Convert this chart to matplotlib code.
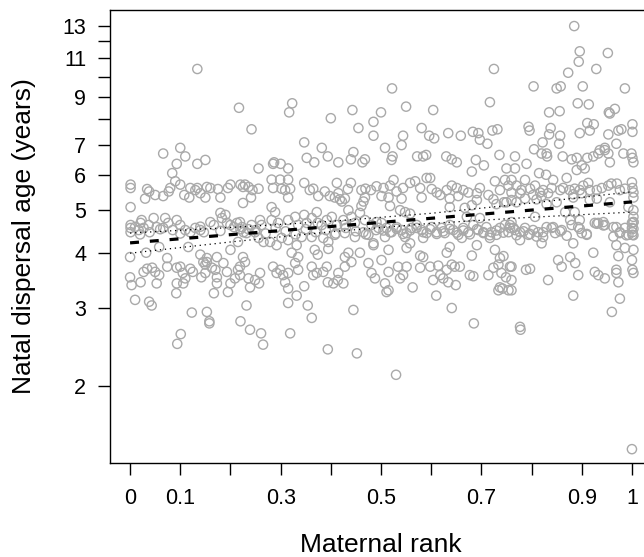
import matplotlib
matplotlib.use('Agg')
import matplotlib.pyplot as plt
from matplotlib.ticker import NullLocator, FixedLocator, FixedFormatter

plt.rcParams['font.family'] = ['Liberation Sans', 'DejaVu Sans']

# --- points, grouped by x range ---
# left strip (rank 0 - 0.23)
rank_a = [.066, .10, .11, .093, .134, .15, .084, .09,
          .001, .001, .034, .038, .03, .05, .066, .077, .08, .10,
          .12, .13, .134, .108, .118, .14, .15, .153, .16, .175, .18, .195, .20, .22, .225,
          .001,
          .001, .001, .001, .01, .017, .021, .023, .027, .037, .039, .047, .053, .066, .07, .076, .085,
          .093, .10, .11, .12, .13, .14, .147, .16, .167, .18, .183, .19, .193, .20, .207, .213, .219, .223, .226,
          0, .032, .058, .074, .116, .14, .153, .153, .173, .20, .215, .225,
          0, .003, .027, .034, .044, .05, .058, .021, .053, .074, .093, .10, .105, .11, .12, .125, .093, .106,
          .092, .142, .15, .146, .15, .163, .17, .173, .173, .167, .186, .193, .20, .209, .215, .219, .219, .195,
          .01, .038, .043, .123, .153, .158, .158, .22, .225]
age_a = [6.7, 6.9, 6.6, 6.35, 6.35, 6.48, 6.05, 5.8,
         5.7, 5.6, 5.57, 5.5, 5.3, 5.4, 5.37, 5.5, 5.6, 5.7,
         5.6, 5.54, 5.6, 5.4, 5.33, 5.45, 5.33, 5.63, 5.6, 5.57, 5.33, 5.6, 5.7, 5.7, 5.63,
         5.07,
         4.62, 4.55, 4.45, 4.57, 4.5, 4.67, 4.74, 4.55, 4.62, 4.45, 4.79, 4.57, 4.55, 4.79, 4.67, 4.5,
         4.74, 4.62, 4.5, 4.45, 4.55, 4.5, 4.45, 4.69, 4.62, 4.92, 4.79, 4.87, 4.67, 4.62, 4.57, 4.67, 4.69, 4.57, 4.45,
         3.91, 4.0, 4.12, 3.89, 4.12, 3.96, 3.81, 3.89, 3.91, 4.06, 4.23, 3.91,
         3.52, 3.38, 3.62, 3.68, 3.7, 3.62, 3.56, 3.43, 3.41, 3.72, 3.7, 3.72, 3.6, 3.5, 3.68, 3.62, 3.41, 3.41,
         3.24, 3.52, 3.6, 3.81, 3.76, 3.7, 3.66, 3.52, 3.41, 3.24, 3.79, 3.62, 3.41, 3.5, 3.66, 3.72, 3.56, 3.26,
         3.13, 3.1, 3.04, 2.93, 2.94, 2.8, 2.77, 2.8, 5.18]

# rank 0.23 - 0.50
rank_b = [.242, .485, .455, .485, .347, .382, .445, .352, .367, .394, .415, .44, .463, .468, .287, .285, .30, .315,
          .256, .282, .299, .315,
          .285, .302, .309, .319, .315, .229, .236, .244, .256, .241, .347, .358, .365, .375,
          .388, .398, .408, .418, .415, .412, .434, .422, .461, .469, .48, .465, .468, .461, .491, .44, .428,
          .282, .289, .282, .295, .259, .262, .242, .236, .249,
          .315, .329, .335, .347, .352, .362, .372, .374, .382, .392, .402, .412, .425, .428, .435, .441,
          .448, .458, .468, .481, .491, .495,
          .232, .256, .266, .279, .292, .302, .315, .332, .342, .362, .385, .395, .408, .428, .448, .465, .475, .485,
          .322, .335, .368, .374, .395, .428, .435, .458, .485,
          .229, .236, .249, .259, .285, .292, .299, .305, .315, .329, .335, .362, .365, .372, .385, .392, .394,
          .405, .415, .425, .428, .441, .475, .481, .488, .239, .257, .309, .414,
          .315, .347, .315, .332, .354, .362, .445, .232]
age_b = [7.6, 7.9, 7.65, 7.35, 7.1, 6.9, 6.75, 6.55, 6.4, 6.6, 6.4, 6.5, 6.4, 6.5, 6.4, 6.35, 6.35, 6.2,
         6.2, 5.85, 5.85, 5.85,
         5.6, 5.58, 5.54, 5.58, 5.33, 5.7, 5.63, 5.54, 5.58, 5.33, 5.75, 5.54, 5.58, 5.37,
         5.5, 5.37, 5.33, 5.28, 5.45, 5.75, 5.57, 5.22, 5.54, 5.58, 5.54, 5.22, 5.33, 5.1, 5.65, 5.75, 5.3,
         5.07, 4.94, 4.74, 4.67, 4.74, 4.62, 4.62, 4.52, 4.45,
         4.74, 4.82, 4.62, 4.87, 4.67, 4.79, 4.94, 4.67, 4.62, 4.74, 4.82, 4.62, 4.74, 4.62, 4.99, 4.82,
         4.67, 4.92, 4.74, 4.62, 4.69, 4.55,
         4.43, 4.32, 4.23, 4.23, 4.16, 4.32, 4.27, 4.16, 4.34, 4.34, 4.32, 4.23, 4.39, 4.43, 4.34, 4.45, 4.39, 4.2,
         4.0, 3.91, 4.06, 3.96, 4.08, 3.91, 4.0, 4.0, 4.16,
         3.81, 3.5, 3.47, 3.6, 3.72, 3.6, 3.66, 3.56, 3.6, 3.79, 3.66, 3.72, 3.56, 3.6, 3.62, 3.72, 3.43,
         3.41, 3.6, 3.41, 3.72, 3.81, 3.79, 3.6, 3.5, 3.34, 3.41, 3.43, 3.47,
         3.32, 3.36, 3.08, 3.2, 3.04, 2.85, 2.97, 3.04]

# rank 0.50 - 0.76
rank_c = [.581, .544, .541, .596, .606, .634, .659, .683, .694, .697, .712, .722, .732, .508,
          .523, .521, .572, .584, .59, .63, .641, .651, .689, .705, .736, .681, .75,
          .525, .518, .505, .501, .531, .544, .558, .568, .578, .591, .598, .601, .611, .618, .631, .641, .651,
          .664, .674, .691, .697, .714, .727, .737, .747, .754, .76, .515, .541, .581, .637, .654, .691, .724, .745,
          .518, .538, .548, .558, .637, .667, .681, .73, .75, .671, .697,
          .501, .511, .521, .531, .541, .551, .561, .571, .581, .591, .601, .611, .621, .627, .637, .644, .654,
          .664, .674, .684, .694, .704, .71, .72, .73, .737, .747, .754, .76, .764, .508, .548, .584, .661, .717,
          .515, .551, .558, .578, .584, .631, .637, .681, .691, .727, .737, .744, .501,
          .515, .534, .544, .538, .551, .578, .598, .604, .614, .618, .624, .631, .634, .641, .647, .657, .649,
          .677, .684, .714, .724, .734, .74, .749, .757, .508, .515, .511, .563, .61, .737, .754, .734, .742,
          .641, .685]
age_c = [7.65, 7.35, 7.0, 7.35, 7.25, 7.45, 7.35, 7.5, 7.45, 7.2, 7.05, 7.55, 7.6, 6.9,
         6.6, 6.48, 6.6, 6.6, 6.65, 6.6, 6.5, 6.4, 6.48, 6.3, 6.65, 6.1, 6.2,
         5.84, 5.67, 5.6, 5.37, 5.5, 5.6, 5.75, 5.8, 5.6, 5.9, 5.9, 5.57, 5.47, 5.4, 5.54, 5.67, 5.6,
         5.54, 5.47, 5.45, 5.6, 5.4, 5.8, 5.54, 5.84, 5.67, 5.47, 5.33, 5.3, 5.33, 5.3, 5.37, 5.26, 5.28, 5.2,
         5.1, 4.99, 4.94, 4.9, 5.07, 5.05, 5.12, 5.15, 5.2, 4.82, 4.79,
         4.67, 4.55, 4.45, 4.57, 4.5, 4.43, 4.55, 4.62, 4.5, 4.43, 4.57, 4.45, 4.55, 4.43, 4.62, 4.5, 4.39,
         4.55, 4.45, 4.62, 4.5, 4.43, 4.57, 4.45, 4.39, 4.55, 4.62, 4.45, 4.69, 4.55, 4.34, 4.34, 4.32, 4.32, 4.32,
         4.06, 4.1, 4.2, 3.94, 3.91, 4.0, 4.12, 3.94, 4.16, 4.06, 3.89, 3.93, 3.85,
         3.62, 3.72, 3.56, 3.5, 3.72, 3.7, 3.72, 3.47, 3.74, 3.56, 3.5, 3.66, 3.43, 3.76, 3.72, 3.72, 3.38,
         3.56, 3.54, 3.56, 3.7, 3.76, 3.6, 3.52, 3.72, 3.41, 3.29, 3.26, 3.34, 3.2, 3.34, 3.29, 3.29, 3.32,
         3.0, 2.77]

# rank 0.76 - 1
rank_d = [.794, .796, .838, .835, .857, .822, .855, .805, .896, .911, .916, .924, .953, .973, .979, 1.001, 1.001,
          .969, .946, .936,
          .767, .79, .82, .83, .831, .862, .88, .89, .90, .911, .923, .933, .946, .953, .956, .983, .999, 1.001,
          1.003, .906, .89, .815, .829, .843, .767,
          .76, .77, .78, .787, .797, .807, .817, .823, .833, .84, .857, .863, .87, .876, .886, .896, .903, .913,
          .916, .94, .953, .959, .97, .976, .986, 1.0, 1.001, 1.003, 1.003, .777, .803, .82, .883, .90, .93,
          .76, .77, .787, .81, .83, .85, .883, .916, .93, .956, .993, 1.003, 1.003, 1.003, .807, .867, .886, .896,
          .926, .943,
          .757, .767, .777, .787, .794, .803, .813, .823, .83, .84, .847, .86, .877, .88, .893, .90, .91, .933,
          .946, .969, .976, .986, .993, 1.0, 1.0, 1.001, 1.001, .777, .82, .883,
          .923, .969, .986, 1.003, .973, .877, .853, .86, .887, 1.0, 1.001, 1.003, .969, .969, .973, .926, .933,
          .946, .789, .797, .76, .76, .76, .833, .893, .883, .976, .96, .777]
age_d = [7.7, 7.55, 7.65, 7.4, 7.35, 7.1, 7.05, 6.85, 7.45, 7.85, 7.55, 7.8, 7.4, 7.55, 7.6, 7.8, 7.5,
         7.05, 6.9, 6.82,
         6.6, 6.35, 6.7, 6.7, 6.6, 6.6, 6.5, 6.55, 6.3, 6.55, 6.6, 6.7, 6.82, 6.7, 6.4, 6.7, 6.7, 6.55,
         6.4, 6.2, 6.15, 6.05, 6.0, 5.84, 6.2,
         5.84, 5.67, 5.54, 5.84, 5.58, 5.67, 5.47, 5.54, 5.45, 5.6, 5.54, 5.6, 5.9, 5.54, 5.58, 5.54, 5.67, 5.75,
         5.54, 5.6, 5.67, 5.73, 5.73, 5.54, 5.58, 5.77, 5.6, 5.47, 5.33, 5.45, 5.4, 5.37, 5.42, 5.45, 5.54,
         5.26, 5.2, 5.3, 5.28, 5.15, 5.2, 5.33, 5.26, 5.3, 5.2, 5.07, 4.99, 4.82, 4.69, 4.82, 4.94, 4.94, 4.74,
         4.67, 4.69,
         4.62, 4.5, 4.45, 4.55, 4.39, 4.5, 4.45, 4.34, 4.57, 4.55, 4.43, 4.5, 4.74, 4.62, 4.57, 4.43, 4.39, 4.67,
         4.62, 4.57, 4.43, 4.55, 4.39, 4.67, 4.55, 4.45, 4.39, 4.27, 4.2, 4.2,
         4.0, 4.16, 4.1, 4.06, 3.93, 3.91, 3.85, 3.72, 3.79, 3.85, 3.66, 3.6, 3.66, 3.6, 3.43, 3.62, 3.56,
         3.5, 3.66, 3.68, 3.72, 3.47, 3.29, 3.47, 3.56, 3.2, 3.15, 2.94, 2.72]

# extra points in the crowded band around 4.5 years
rank_band = [.505, .518, .531, .544, .558, .571, .584, .598, .611, .624, .637, .651, .664, .677, .691,
             .704, .717, .73, .744, .757, .77, .784, .797, .81, .823, .843, .857, .87, .896, .91,
             .93, .943, .963, .976, .989, 1.003, 1.003, 1.003, .963,
             .25, .27, .29, .31, .33, .35, .37, .39, .41, .43, .45, .47, .49, .02, .06, .10, .14, .18, .22]
age_band = [4.49, 4.45, 4.53, 4.41, 4.49, 4.55, 4.45, 4.52, 4.41, 4.47, 4.53, 4.44, 4.49, 4.40, 4.52,
            4.45, 4.38, 4.49, 4.44, 4.55, 4.38, 4.47, 4.41, 4.35, 4.45, 4.57, 4.47, 4.37, 4.53, 4.41,
            4.65, 4.61, 4.57, 4.45, 4.38, 4.69, 4.53, 4.38, 4.35,
            4.5, 4.42, 4.55, 4.47, 4.4, 4.52, 4.45, 4.5, 4.42, 4.55, 4.47, 4.4, 4.5, 4.4, 4.52, 4.42, 4.58, 4.48, 4.52]

# sparse high and low points
rank_out = [.134, .217, .323, .317, .40, .443, .50, .522, .55, .604, .717, .725, .804, .835, .856, .85, .858,
            .873, .894, .896, .885, .902, .929, .952, .892, .914, .954, .956, .966, .986,
            .101, .094, .239, .261, .265, .319, .394, .452, .53, .778, 1.0]
age_out = [10.4, 8.5, 8.7, 8.3, 8.05, 8.4, 8.3, 9.4, 8.55, 8.4, 8.75, 10.4, 9.5, 8.3, 8.35, 9.4, 9.5,
           10.2, 10.8, 11.4, 13.0, 9.5, 10.4, 11.3, 8.7, 8.65, 8.3, 8.25, 8.45, 9.4,
           2.62, 2.49, 2.68, 2.63, 2.48, 2.63, 2.42, 2.37, 2.12, 2.68, 1.44]

# fitted line and interval, read at a few ranks
fit_rank = [0, 1]
fit_age = [4.21, 5.21]
ci_rank = [0, 0.2, 0.4, 0.6, 0.8, 1.0]
ci_upper = [4.43, 4.56, 4.71, 4.91, 5.18, 5.49]
ci_lower = [3.99, 4.23, 4.46, 4.66, 4.81, 4.94]

yticks = [2, 3, 4, 5, 6, 7, 8, 9, 10, 11, 12, 13]
ytick_labels = ['2', '3', '4', '5', '6', '7', '', '9', '', '11', '', '13']
xticks = [0, 0.1, 0.2, 0.3, 0.4, 0.5, 0.6, 0.7, 0.8, 0.9, 1.0]
xtick_labels = ['0', '0.1', '', '0.3', '', '0.5', '', '0.7', '', '0.9', '1']

rank = rank_a + rank_b + rank_c + rank_d + rank_band + rank_out
age = age_a + age_b + age_c + age_d + age_band + age_out

W, H = 644, 557
fig = plt.figure(figsize=(W / 100, H / 100), dpi=100)
# plot box runs past the right edge of the picture, like the cropped original
ax = fig.add_axes([110 / W, 94 / H, 542 / W, 453.5 / H])

ax.scatter(rank, age, s=44, facecolors='none', edgecolors='#a9a9a9', linewidths=1.0, zorder=2)
ax.plot(fit_rank, fit_age, color='black', lw=2.3, dashes=(2.8, 3.4), zorder=3)
ax.plot(ci_rank, ci_upper, color='black', lw=0.9, linestyle=(0, (1, 3)), zorder=3)
ax.plot(ci_rank, ci_lower, color='black', lw=0.9, linestyle=(0, (1, 3)), zorder=3)

ax.set_yscale('log')
ax.set_xlim(-0.04, 1.04)
ax.set_ylim(1.34, 14.17)
ax.yaxis.set_major_locator(FixedLocator(yticks))
ax.yaxis.set_major_formatter(FixedFormatter(ytick_labels))
ax.yaxis.set_minor_locator(NullLocator())
ax.set_xticks(xticks)
ax.set_xticklabels(xtick_labels)

for s in ax.spines.values():
    s.set_linewidth(1.0)
ax.tick_params(axis='both', which='major', direction='out', length=8.6, width=1.0, labelsize=15.5)
ax.tick_params(axis='y', pad=8.5)
ax.tick_params(axis='x', pad=9.5)

fig.text(24.5 / W, 1 - 236.5 / H, 'Natal dispersal age (years)', rotation=90,
         ha='center', va='center', fontsize=19)
fig.text(381 / W, 0.5 / H, 'Maternal rank', ha='center', va='bottom', fontsize=19)

fig.savefig('out.png', dpi=100)
